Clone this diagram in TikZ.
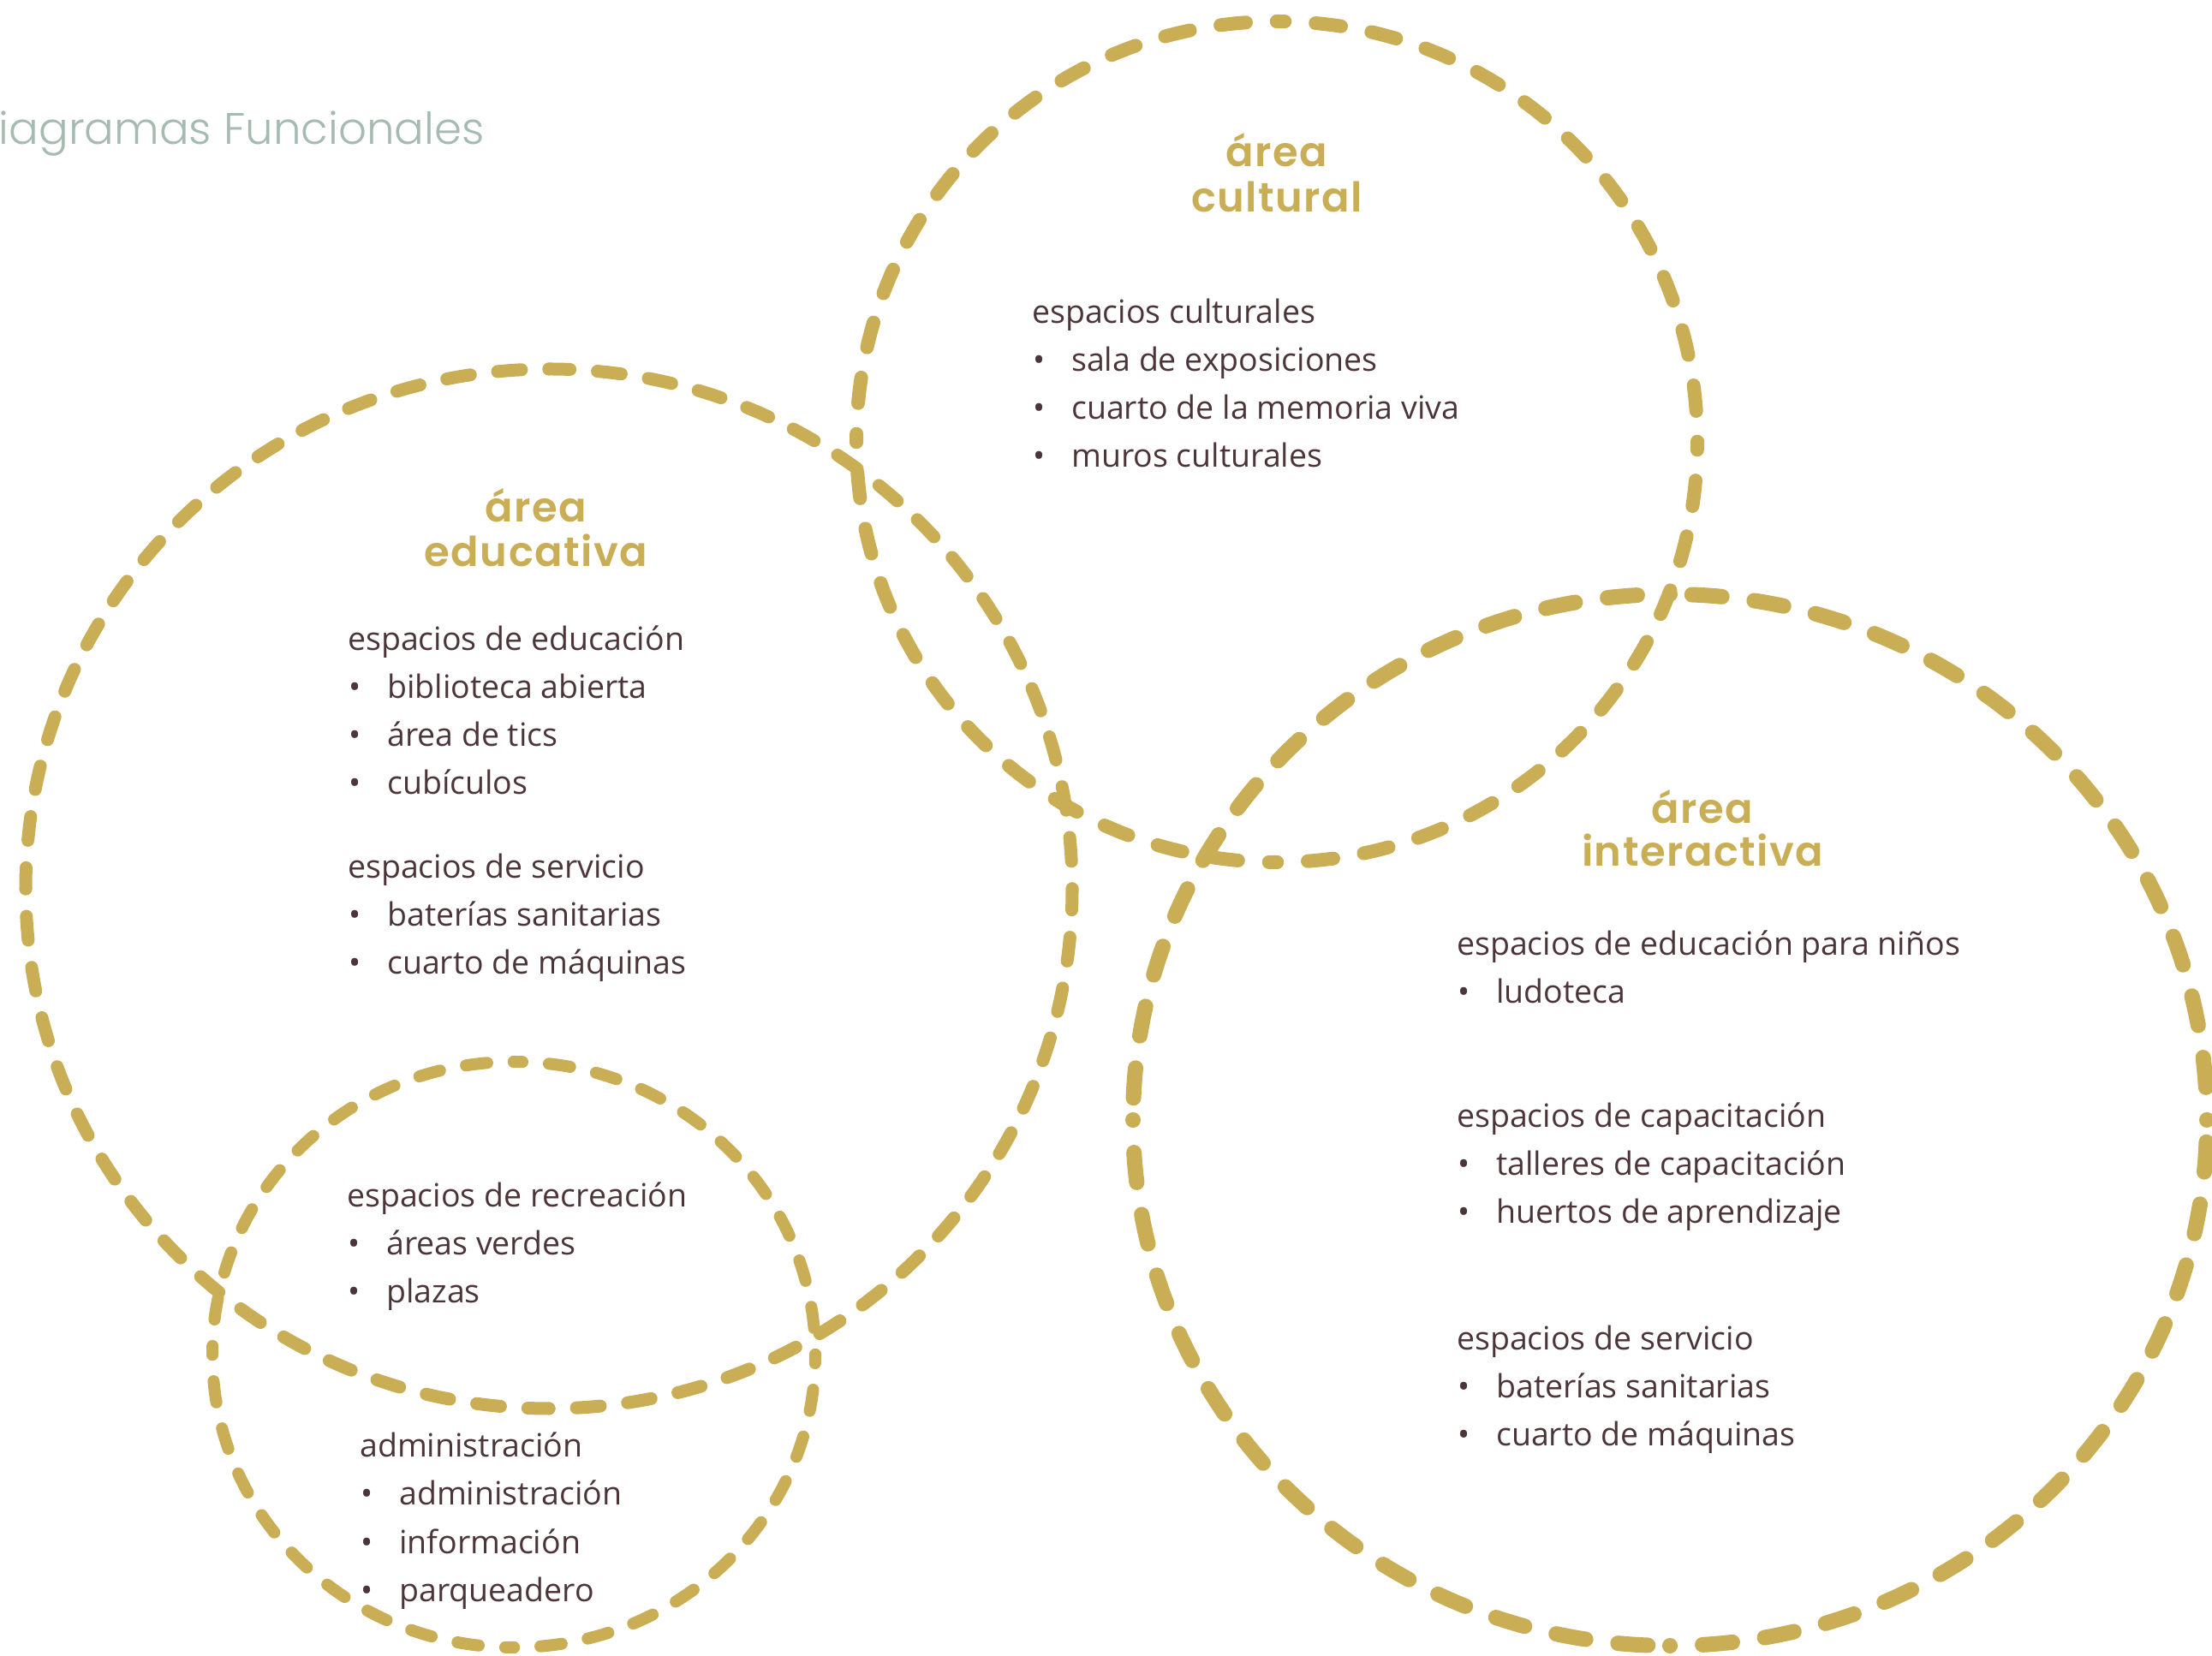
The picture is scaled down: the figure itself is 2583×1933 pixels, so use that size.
\documentclass[tikz,border=0pt]{standalone}
\usepackage{fontspec}
\setmainfont{Open Sans}
\newfontfamily\headfont{Poppins}[UprightFont=*-SemiBold, LetterSpace=3]
\newfontfamily\titlefont{Poppins}[UprightFont=*-Light]
\definecolor{gold}{HTML}{C9AE56}
\definecolor{txtc}{HTML}{4B3539}
\definecolor{titlec}{HTML}{A5BAB0}
\newcommand\itm[1]{\makebox[46pt][l]{\hspace*{1pt}•}#1}
\newcommand\dashring[4]{%
  \foreach \a in {0,90,180,270}{%
    \draw[#4] (#1) ++(\a:#2pt and #3pt) arc[start angle=\a,delta angle=90,x radius=#2pt,y radius=#3pt];}}
\begin{document}
\begin{tikzpicture}[x=1pt,y=1pt,
  ringbase/.style={draw=gold, line cap=round},
  ringE/.style={ringbase, line width=15pt, dash pattern=on 28pt off 32pt, dash phase=27.9pt},
  ringC/.style={ringbase, line width=16pt, dash pattern=on 30pt off 36pt, dash phase=29.9pt},
  ringI/.style={ringbase, line width=18pt, dash pattern=on 35pt off 38pt, dash phase=34.9pt},
  ringS/.style={ringbase, line width=14pt, dash pattern=on 25pt off 31pt, dash phase=24.9pt},
  body/.style={font=\fontsize{37.5}{44}\selectfont, text=txtc, inner sep=0pt, anchor=base west},
  head/.style={font=\headfont\fontsize{48}{53}\selectfont, text=gold, inner sep=0pt, anchor=base},
  titletext/.style={font=\titlefont\fontsize{51.5}{60}\selectfont, text=titlec, inner sep=0pt, anchor=base east}]
\useasboundingbox (0,0) rectangle (2583,1933);
\clip (0,0) rectangle (2583,1933);

% circle centres
\coordinate (cC) at (1491,1417);
\coordinate (cE) at (641,895);
\coordinate (cI) at (1950,625);
\coordinate (cS) at (600,351);

\dashring{cE}{611}{607}{ringE}
\dashring{cC}{491}{491}{ringC}
\dashring{cS}{352}{342}{ringS}
\dashring{cI}{627}{614}{ringI}

% title
\node[titletext] (title) at (566,1764) {Diagramas Funcionales};

% cultural
\node[head] (hc1) at (1491,1738) {área};
\node[head] (hc2) at (1491,1685) {cultural};
\node[body] (c0) at (1205,1555) {espacios culturales};
\node[body] (c1) at (1205,1499) {\itm{sala de exposiciones}};
\node[body] (c2) at (1205,1443) {\itm{cuarto de la memoria viva}};
\node[body] (c3) at (1205,1387) {\itm{muros culturales}};

% educativa
\node[head] (he1) at (626,1323) {área};
\node[head] (he2) at (626,1271) {educativa};
\node[body] (e0) at (406,1173) {espacios de educación};
\node[body] (e1) at (406,1117) {\itm{biblioteca abierta}};
\node[body] (e2) at (406,1061) {\itm{área de tics}};
\node[body] (e3) at (406,1005) {\itm{cubículos}};
\node[body] (e4) at (406,907) {espacios de servicio};
\node[body] (e5) at (406,851) {\itm{baterías sanitarias}};
\node[body] (e6) at (406,795) {\itm{cuarto de máquinas}};

% recreacion
\node[body] (r0) at (405,523) {espacios de recreación};
\node[body] (r1) at (405,467) {\itm{áreas verdes}};
\node[body] (r2) at (405,411) {\itm{plazas}};

% administracion
\node[body] (a0) at (420,231) {administración};
\node[body] (a1) at (420,175) {\itm{administración}};
\node[body] (a2) at (420,119) {\itm{información}};
\node[body] (a3) at (420,63) {\itm{parqueadero}};

% interactiva
\node[head] (hi1) at (1988,971) {área};
\node[head] (hi2) at (1988,921) {interactiva};
\node[body] (i0) at (1701,817) {espacios de educación para niños};
\node[body] (i1) at (1701,761) {\itm{ludoteca}};
\node[body] (i2) at (1701,616) {espacios de capacitación};
\node[body] (i3) at (1701,560) {\itm{talleres de capacitación}};
\node[body] (i4) at (1701,504) {\itm{huertos de aprendizaje}};
\node[body] (i5) at (1701,356) {espacios de servicio};
\node[body] (i6) at (1701,300) {\itm{baterías sanitarias}};
\node[body] (i7) at (1701,244) {\itm{cuarto de máquinas}};
\end{tikzpicture}
\end{document}
